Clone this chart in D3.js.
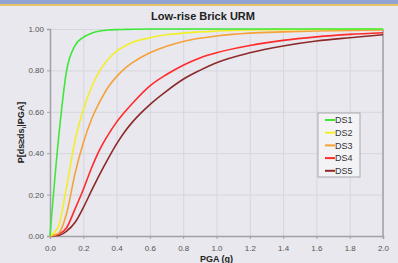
<!DOCTYPE html>
<html>
<head>
<meta charset="utf-8">
<script src="https://cdnjs.cloudflare.com/ajax/libs/d3/7.8.5/d3.min.js"></script>
<style>
  body { margin: 0; background: #e9e8ee; }
  text { font-family: "Liberation Sans", Arial, sans-serif; }
</style>
</head>
<body>
<div id="chart"></div>
<script>
// data
var pga = [0, 0.05, 0.1, 0.15, 0.2, 0.25, 0.3, 0.35, 0.4, 0.45, 0.5, 0.6, 0.7, 0.8, 0.9, 1.0, 1.2, 1.4, 1.6, 1.8, 2.0];
var ds1 = [0, 0.46, 0.80, 0.92, 0.96, 0.98, 0.99, 0.995, 0.997, 0.998, 0.999, 1, 1, 1, 1, 1, 1, 1, 1, 1, 1];
var ds2 = [0, 0.045, 0.24, 0.46, 0.61, 0.72, 0.80, 0.855, 0.893, 0.918, 0.937, 0.958, 0.972, 0.98, 0.986, 0.99, 0.995, 0.997, 0.998, 0.999, 0.999];
var ds3 = [0, 0.012, 0.11, 0.30, 0.45, 0.565, 0.65, 0.72, 0.77, 0.81, 0.84, 0.885, 0.917, 0.94, 0.955, 0.966, 0.98, 0.986, 0.99, 0.993, 0.995];
var ds4 = [0, 0.008, 0.04, 0.13, 0.225, 0.33, 0.42, 0.49, 0.55, 0.60, 0.645, 0.725, 0.78, 0.825, 0.86, 0.885, 0.92, 0.945, 0.962, 0.974, 0.982];
var ds5 = [0, 0.003, 0.024, 0.065, 0.137, 0.22, 0.30, 0.375, 0.445, 0.505, 0.555, 0.635, 0.70, 0.757, 0.80, 0.837, 0.885, 0.918, 0.942, 0.958, 0.972];
var seriesNames = ["DS1", "DS2", "DS3", "DS4", "DS5"];
var seriesColors = ["#3ee83a", "#f2ef2a", "#f5a23a", "#ff2a2a", "#8c2a2a"];
var xTicks = [0, 0.2, 0.4, 0.6, 0.8, 1.0, 1.2, 1.4, 1.6, 1.8, 2.0];
var yTicks = [0, 0.2, 0.4, 0.6, 0.8, 1.0];

var svgWidth = 398, svgHeight = 263;
var margin = { top: 29, right: 15, bottom: 27, left: 50 };
var width = svgWidth - margin.left - margin.right;
var height = svgHeight - margin.top - margin.bottom;

var svg = d3.select("#chart").append("svg")
  .attr("width", svgWidth)
  .attr("height", svgHeight);

// top banner
svg.append("rect").attr("x", 0).attr("y", 0).attr("width", svgWidth).attr("height", 4).attr("fill", "#92a3d3");
svg.append("rect").attr("x", 0).attr("y", 4).attr("width", svgWidth).attr("height", 2).attr("fill", "#e9c466");

var chartGroup = svg.append("g")
  .attr("transform", `translate(${margin.left}, ${margin.top})`);

var xScale = d3.scaleLinear().domain([0, 2]).range([0, width]);
var yScale = d3.scaleLinear().domain([0, 1]).range([height, 0]);

// grid
chartGroup.append("g")
  .call(d3.axisBottom(xScale).tickValues(xTicks).tickSize(height).tickFormat(""))
  .call(g => g.select(".domain").remove())
  .selectAll("line").attr("stroke", "#d6d6dc");
chartGroup.append("g")
  .call(d3.axisLeft(yScale).tickValues(yTicks).tickSize(-width).tickFormat(""))
  .call(g => g.select(".domain").remove())
  .selectAll("line").attr("stroke", "#d6d6dc");

// axes
var bottomAxis = d3.axisBottom(xScale).tickValues(xTicks).tickSize(3).tickFormat(d3.format(".1f"));
var leftAxis = d3.axisLeft(yScale).tickValues(yTicks).tickSize(3).tickFormat(d3.format(".2f"));

var xAxis = chartGroup.append("g")
  .attr("transform", `translate(0, ${height})`)
  .call(bottomAxis);
var yAxis = chartGroup.append("g").call(leftAxis);

[xAxis, yAxis].forEach(function(a) {
  a.select(".domain").attr("stroke", "#a0a0a6").attr("stroke-width", 1.5);
  a.selectAll("line").attr("stroke", "#a0a0a6");
  a.selectAll("text").attr("fill", "#555").style("font-size", "8px");
});
xAxis.selectAll("text").attr("dy", "1.1em");

// right border
chartGroup.append("line")
  .attr("x1", width).attr("x2", width)
  .attr("y1", 0).attr("y2", height)
  .attr("stroke", "#a0a0a6").attr("stroke-width", 1.5);

// lines
var allSeries = [ds1, ds2, ds3, ds4, ds5];
var line = d3.line()
  .x((d, i) => xScale(pga[i]))
  .y(d => yScale(d))
  .curve(d3.curveMonotoneX);

chartGroup.selectAll(".curve")
  .data(allSeries.slice().reverse())
  .enter()
  .append("path")
  .attr("class", "curve")
  .attr("d", line)
  .attr("fill", "none")
  .attr("stroke", (d, i) => seriesColors[4 - i])
  .attr("stroke-width", 1.6);

// title
svg.append("text")
  .attr("x", 203).attr("y", 20)
  .attr("text-anchor", "middle")
  .style("font-size", "11px").style("font-weight", "bold")
  .attr("fill", "#222")
  .text("Low-rise Brick URM");

// axis titles
svg.append("text")
  .attr("x", margin.left + width / 2).attr("y", 262)
  .attr("text-anchor", "middle")
  .style("font-size", "9px").style("font-weight", "bold")
  .attr("fill", "#222")
  .text("PGA (g)");

var yLabel = svg.append("text")
  .attr("transform", `translate(24, ${margin.top + height / 2}) rotate(-90)`)
  .attr("text-anchor", "middle")
  .style("font-size", "9px").style("font-weight", "bold")
  .attr("fill", "#222");
yLabel.append("tspan").text("P[ds≥ds");
yLabel.append("tspan").attr("dy", 2).style("font-size", "6px").text("i");
yLabel.append("tspan").attr("dy", -2).text("|PGA]");

// legend
var legend = svg.append("g").attr("transform", "translate(318, 113)");
legend.append("rect")
  .attr("width", 42).attr("height", 64)
  .attr("fill", "#f3f3f6")
  .attr("stroke", "#a8a8ae");
var items = legend.selectAll(".item")
  .data(seriesNames)
  .enter()
  .append("g")
  .attr("transform", (d, i) => `translate(0, ${7 + i * 12.7})`);
items.append("line")
  .attr("x1", 7).attr("x2", 17)
  .attr("stroke", (d, i) => seriesColors[i])
  .attr("stroke-width", 2);
items.append("text")
  .attr("x", 17).attr("dy", "0.35em")
  .style("font-size", "9px")
  .attr("fill", "#333")
  .text(d => d);
</script>
</body>
</html>
